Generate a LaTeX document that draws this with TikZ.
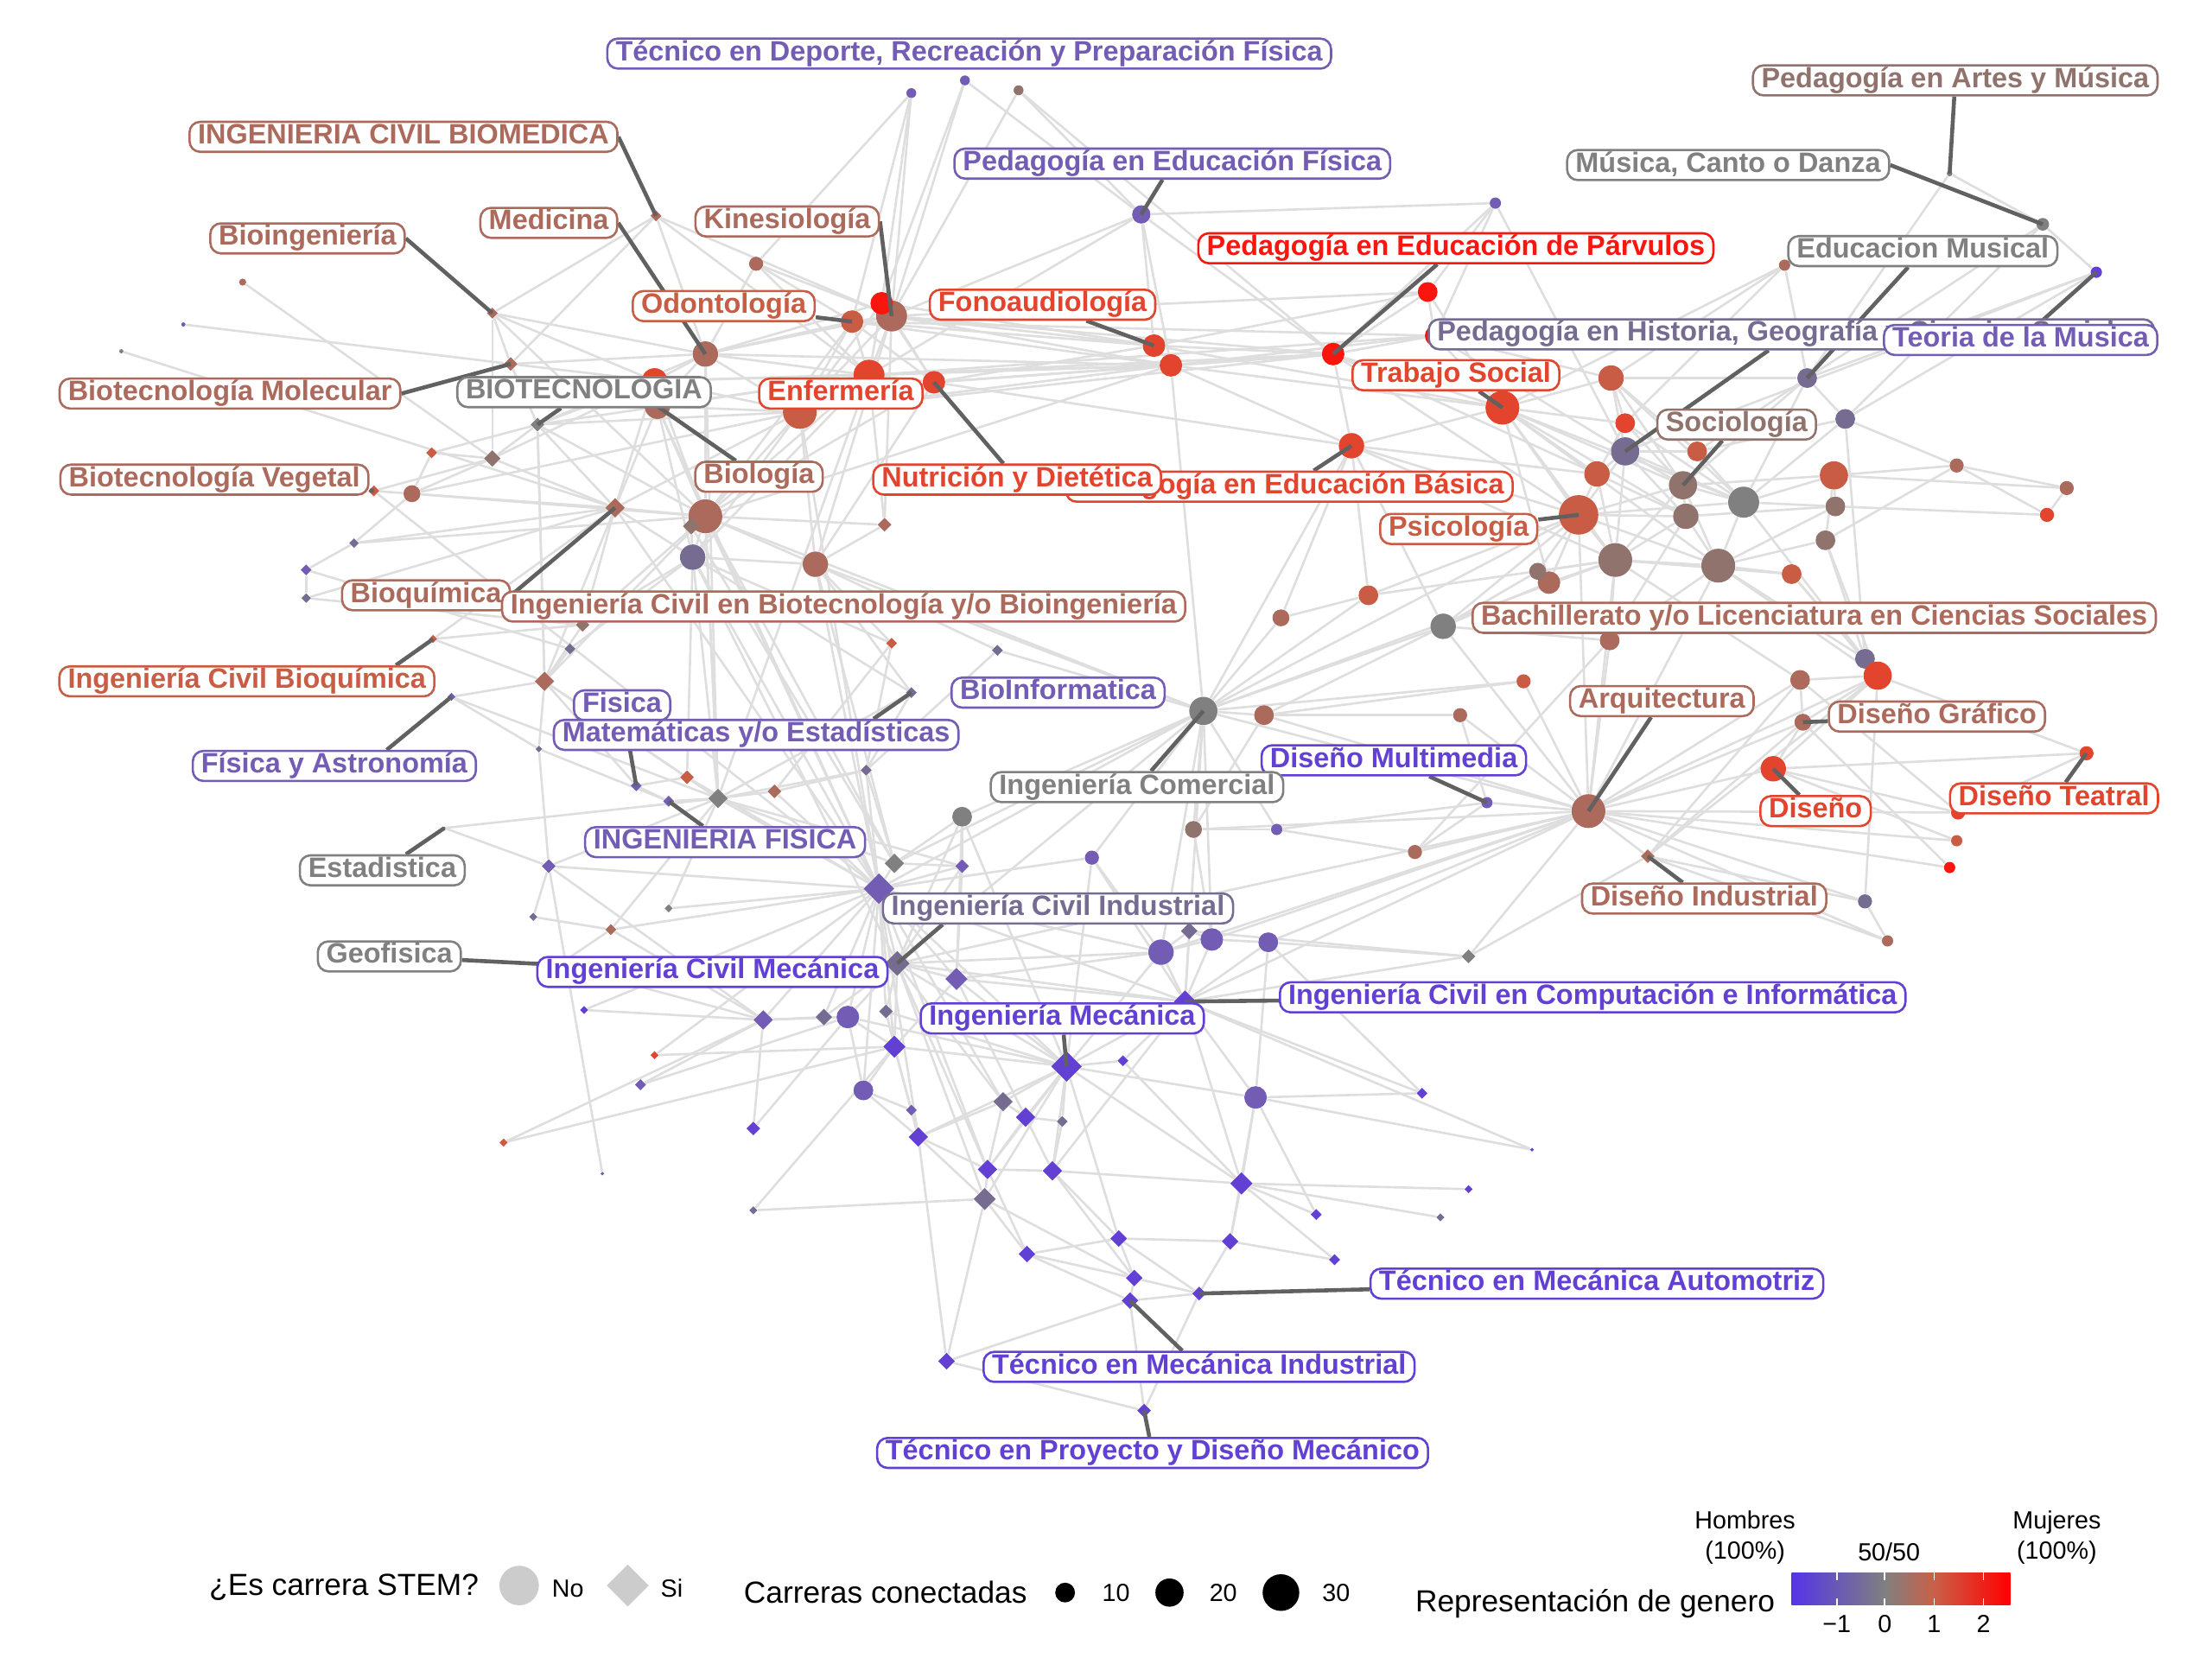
\documentclass[tikz,border=0pt]{standalone}
\usepackage{fontspec}
\setmainfont{Liberation Sans}
\usetikzlibrary{shapes.geometric}

% gender scale
\definecolor{cB}{RGB}{98,64,212}
\definecolor{cV}{RGB}{115,92,180}
\definecolor{cP}{RGB}{118,108,145}
\definecolor{cG}{RGB}{128,128,128}
\definecolor{cM}{RGB}{145,115,110}
\definecolor{cBr}{RGB}{172,106,92}
\definecolor{cO}{RGB}{200,92,68}
\definecolor{cOR}{RGB}{226,68,45}
\definecolor{cR}{RGB}{250,22,15}
\definecolor{grisE}{RGB}{222,222,222}
\definecolor{barA}{RGB}{85,52,232}
\definecolor{barC}{RGB}{202,96,72}

\pgfdeclarelayer{fondo}
\pgfdeclarelayer{enlaces}
\pgfdeclarelayer{guias}
\pgfdeclarelayer{etiquetas}
\pgfsetlayers{fondo,enlaces,main,guias,etiquetas}

\tikzset{
  carrera/.style 2 args={circle, fill=#2, inner sep=0pt, minimum size=#1*0.4mm},
  stem/.style 2 args={diamond, aspect=1, fill=#2, inner sep=0pt, minimum size=#1*0.4mm},
  enlace/.style={draw=grisE, line width=0.9pt},
  guia/.style={draw=black!62, line width=1.6pt},
  etiqueta/.style={draw=#1, text=#1, fill=white, line width=0.9pt, rounded corners=1.5mm,
    font=\bfseries\fontsize{11.3}{13}\selectfont, inner xsep=1.2mm, inner ysep=0.85pt,
    text height=8pt, text depth=2.4pt},
  leyenda/.style={font=\fontsize{12.3}{14}\selectfont, inner sep=0pt},
  clave/.style={font=\fontsize{10}{12}\selectfont, inner sep=0pt},
}

\begin{document}
\begin{tikzpicture}[x=0.2mm,y=-0.2mm]

\begin{pgfonlayer}{fondo}
\fill[white] (0,0) rectangle (1568,1175);
\end{pgfonlayer}
\useasboundingbox (0,0) rectangle (1568,1175);

% Careers that are not STEM (circles)
\foreach \n/\x/\y/\rad/\col in {
  t1/646/66/3.5/cV, t2/684/57/3.5/cV, t3/722/64/3.5/cM, pef/809/152/6.5/cV,
  kin/632/224/11/cBr, kr/625/215/8/cR, med/500/251/9/cBr, odo/604/228/8/cO,
  b1/536/187/5/cBr, l1/172/200/2.5/cBr, l2/130/230/1.5/cV, l3/86/249/1.5/cG,
  rb/464/270/9/cOR, bio/466/288/9/cBr, enf/616/266/11/cOR, nut/662/271/8/cOR,
  b2/567/292/12/cO, fono/818/245/8/cOR, f2/830/259/8/cOR, c1/292/350/6/cBr,
  c2/500/366/12/cBr, c3/491/395/9/cP, c4/578/400/9/cBr, est/315/587/1/cG,
  icom/853/504/10/cG, c5/896/507/7/cBr, c6/682/579/7/cG, c7/774/608/5/cV,
  geo/396/684/1/cG, c8/601/721/8/cV, c9/823/675/9/cV, c10/859/666/8/cV,
  c11/899/668/7/cV, c12/612/773/7/cV, c13/890/778/8/cV,
  pam/1382/123/2/cG, mcd/1448/159/4.5/cG, c14/1060/144/4/cV, tdm/1486/193/4/cB,
  c15/1265/188/4/cBr, par/945/251/8/cR, c16/1012/207/7/cR, c17/1017/238/7/cR,
  phg/1152/320/10/cP, emu/1281/268/7/cP, ts/1065/289/12/cOR, c18/1142/268/9/cO,
  c19/1152/300/7/cOR, c20/1132/336/9/cO, c21/1203/320/7/cO, soc/1193/344/10/cM,
  c22/1236/356/11/cG, c23/1195/366/9/cM, c24/1308/297/7/cP, c25/1300/337/10/cO,
  c26/1301/359/7/cM, c27/1294/383/7/cM, psi/1119/365/14/cO, c28/1145/397/12/cM,
  c29/1218/401/12/cM, c30/1270/407/7/cO, c31/1098/413/8/cBr, c32/1090/405/6/cM,
  peb/958/316/9/cOR, c33/1387/330/5/cBr, c34/1465/346/5/cBr, c35/1451/365/5/cOR,
  c36/970/422/7/cO, c37/908/438/6/cBr, c38/1023/444/9/cG, c39/1141/454/7/cBr,
  c40/1080/483/5/cO, c41/1035/507/5/cBr, c42/1322/467/7/cP, c43/1331/479/10/cOR,
  c44/1276/482/7/cBr, dgr/1278/512/6/cBr, dis/1257/545/9/cOR, dte/1479/534/5/cOR,
  c45/1388/576/5/cOR, c46/1387/596/4/cO, c47/1382/615/4/cR, arq/1126/575/12/cBr,
  c48/1322/639/5/cP, c49/1338/667/4/cBr, dmu/1054/569/4/cV, c50/1003/604/5/cBr,
  c51/905/588/4/cV, c52/846/588/6/cM}
  \node[carrera={\rad}{\col}] (\n) at (\x,\y) {};

% STEM careers (diamonds)
\foreach \n/\x/\y/\rad/\col in {
  icb/465/153/4/cBr, bioi/349/222/4/cBr, btm/362/258/5/cBr, btc/381/301/5/cG,
  d1/306/321/4/cO, d2/349/325/6/cM, bveg/265/348/4/cO, bqm/436/360/7/cBr,
  d3/490/373/6/cM, d4/627/372/5/cBr, d5/251/385/3.5/cP, d6/217/404/4/cV,
  d7/217/424/3.5/cP, ibq/307/453/3/cO, d8/413/443/5/cM, d9/404/460/4/cP,
  d10/386/483/7/cBr, d11/632/456/4/cO, d12/707/461/4/cP, fya/320/494/3/cV,
  mat/646/491/4/cP, d13/382/531/2.5/cP, fis/451/557/4/cV, ifis/474/568/4/cV,
  d14/487/551/5/cO, d15/509/566/7/cG, d16/549/561/5/cBr, d17/614/546/4/cP,
  d18/634/612/7/cG, d19/682/614/5/cV, d20/623/630/11/cV, d21/389/614/5/cV,
  d22/378/650/3/cP, d23/474/644/3/cG, d24/433/659/4/cBr, iind/636/683/9/cP,
  d25/678/694/8/cV, d26/414/716/3/cB, d27/541/723/7/cV, d28/584/721/6/cP,
  d29/628/717/5/cP, imec/756/756/11/cB, d30/634/742/8/cB, icci/840/710/8/cB,
  d31/843/660/6/cP, d32/1041/678/5/cG, d33/646/787/4/cV, d34/711/781/7/cP,
  d35/727/792/7/cB, d36/753/795/4/cP, d37/796/752/4/cB, d38/464/748/3/cOR,
  d39/454/769/4/cV, d40/357/810/3/cO, d41/427/832/1.5/cV, d42/534/800/5/cB,
  d43/651/806/7/cB, d44/700/829/7/cB, d45/746/830/7/cB, d46/880/839/8/cB,
  d47/698/850/8/cP, d48/1008/775/4/cB, d49/1086/815/1.5/cB, d50/1041/843/3/cB,
  d51/933/861/4/cB, d52/1021/863/3/cP, d53/534/858/3/cP, d54/728/889/6/cB,
  d55/793/878/6/cB, d56/872/880/6/cB, d57/946/893/4/cB, tma/850/917/5/cB,
  d58/804/906/6/cB, tmi/801/922/6/cB, d59/671/965/6/cB, tpd/811/1000/5/cB,
  din/1168/607/5/cBr}
  \node[stem={\rad}{\col}] (\n) at (\x,\y) {};

% Labels of the careers
\begin{pgfonlayer}{etiquetas}
\node[etiqueta=cV] (ldep) at (687,38) {Técnico en Deporte, Recreación y Preparación Física};
\node[etiqueta=cBr] (licb) at (286,97) {INGENIERIA CIVIL BIOMEDICA};
\node[etiqueta=cV] (lpef) at (831,116) {Pedagogía en Educación Física};
\node[etiqueta=cBr] (lmed) at (389,158) {Medicina};
\node[etiqueta=cBr] (lkin) at (558,157) {Kinesiología};
\node[etiqueta=cBr] (lbioi) at (218,169) {Bioingeniería};
\node[etiqueta=cO] (lodo) at (513,217) {Odontología};
\node[etiqueta=cOR] (lfono) at (739,216) {Fonoaudiología};
\node[etiqueta=cR] (lpar) at (1032,176) {Pedagogía en Educación de Párvulos};
\node[etiqueta=cG] (lmcd) at (1225,117) {Música, Canto o Danza};
\node[etiqueta=cM] (lpam) at (1386,57) {Pedagogía en Artes y Música};
\node[etiqueta=cG] (lemu) at (1363,178) {Educacion Musical};
\node[etiqueta=cBr] (lbtm) at (163,279) {Biotecnología Molecular};
\node[etiqueta=cG] (lbtc) at (414,278) {BIOTECNOLOGIA};
\node[etiqueta=cOR] (lenf) at (596,279) {Enfermería};
\node[etiqueta=cP, anchor=west] (lphg) at (1012,237) {Pedagogía en Historia, Geografía y Ciencias Sociales};
\node[etiqueta=cV, anchor=east] (ltdm) at (1530,241) {Teoria de la Musica};
\node[etiqueta=cOR] (lts) at (1032,266) {Trabajo Social};
\node[etiqueta=cM] (lsoc) at (1231,301) {Sociología};
\node[etiqueta=cBr] (lbveg) at (152,340) {Biotecnología Vegetal};
\node[etiqueta=cBr] (lbio) at (538,338) {Biología};
\node[etiqueta=cOR, anchor=east] (lpeb) at (1073,345) {Pedagogía en Educación Básica};
\node[etiqueta=cOR] (lnut) at (721,340) {Nutrición y Dietética};
\node[etiqueta=cO] (lpsi) at (1034,375) {Psicología};
\node[etiqueta=cBr] (lbqm) at (302,422) {Bioquímica};
\node[etiqueta=cBr] (licbt) at (598,430) {Ingeniería Civil en Biotecnología y/o Bioingeniería};
\node[etiqueta=cBr] (lbach) at (1286,438) {Bachillerato y/o Licenciatura en Ciencias Sociales};
\node[etiqueta=cO] (libq) at (175,483) {Ingeniería Civil Bioquímica};
\node[etiqueta=cV] (lbinf) at (750,491) {BioInformatica};
\node[etiqueta=cV] (lfis) at (441,500) {Fisica};
\node[etiqueta=cV] (lmat) at (536,521) {Matemáticas y/o Estadísticas};
\node[etiqueta=cV] (lfya) at (237,543) {Física y Astronomía};
\node[etiqueta=cB] (ldmu) at (988,539) {Diseño Multimedia};
\node[etiqueta=cG] (licom) at (806,558) {Ingeniería Comercial};
\node[etiqueta=cBr] (larq) at (1178,497) {Arquitectura};
\node[etiqueta=cBr] (ldgr) at (1373,508) {Diseño Gráfico};
\node[etiqueta=cOR] (ldis) at (1287,575) {Diseño};
\node[etiqueta=cOR] (ldte) at (1456,566) {Diseño Teatral};
\node[etiqueta=cG] (lest) at (271,617) {Estadistica};
\node[etiqueta=cV] (lifis) at (514,597) {INGENIERIA FISICA};
\node[etiqueta=cBr] (ldin) at (1208,637) {Diseño Industrial};
\node[etiqueta=cP] (liind) at (750,644) {Ingeniería Civil Industrial};
\node[etiqueta=cG] (lgeo) at (276,678) {Geofisica};
\node[etiqueta=cB] (licm) at (505,689) {Ingeniería Civil Mecánica};
\node[etiqueta=cB] (licci) at (1129,707) {Ingeniería Civil en Computación e Informática};
\node[etiqueta=cB] (limec) at (753,722) {Ingeniería Mecánica};
\node[etiqueta=cB] (ltma) at (1132,910) {Técnico en Mecánica Automotriz};
\node[etiqueta=cB] (ltmi) at (850,969) {Técnico en Mecánica Industrial};
\node[etiqueta=cB] (ltpd) at (817,1030) {Técnico en Proyecto y Diseño Mecánico};
\end{pgfonlayer}

% Segments from each label to its career
\begin{pgfonlayer}{guias}
\foreach \p/\q in {licb.east/icb, lpef/pef, lmed.east/med, lkin.east/kin,
  lbioi.east/bioi, lodo/odo, lfono/fono, lpar/par, lmcd.east/mcd, lpam/pam,
  lemu/emu, lbtm.east/btm, lbtc/btc, lphg/phg, ltdm/tdm, lts/ts, lsoc/soc,
  lbveg/bveg, lbio/bio, lpeb/peb, lnut/nut, lpsi/psi, lbqm.east/bqm,
  lfis/fis, ldmu/dmu, licom/icom, larq/arq, ldgr/dgr, ldis/dis, ldte/dte,
  lest/est, lifis/ifis, ldin/din, lgeo/geo, licci/icci, limec/imec,
  ltma/tma, ltmi/tmi, ltpd/tpd}
  \draw[guia] (\p) -- (\q.center);
\draw[guia] ([xshift=-5.6mm]libq.north east) -- (ibq.center);
\draw[guia] ([xshift=-12.8mm]lfya.north east) -- (fya.center);
\draw[guia] ([xshift=-12.2mm]lmat.north east) -- (mat.center);
\draw[guia] ([xshift=8.6mm]liind.south west) -- (iind.center);
\end{pgfonlayer}

% Connected careers
\begin{pgfonlayer}{enlaces}
\foreach \p/\q in {
  t1/kin, t1/kr, t1/odo, t2/kin, t2/pef, t2/kr, t3/kin, t3/pef, t3/par, t1/b1,
  pef/kin, pef/f2, pef/par, pef/fono, pef/enf, pef/c14,
  icb/bioi, icb/med, icb/enf, icb/btm, icb/kin,
  bioi/btm, bioi/d2, bioi/med, bioi/c2, bioi/rb, l1/d2, l2/btm, l3/bqm,
  med/odo, med/kin, med/enf, med/b2, med/rb, med/bio, med/c2, med/btc, med/kr,
  odo/kin, odo/enf, odo/b2, odo/nut, odo/c2, kin/enf, kin/nut, kin/b2, kin/kr, kin/c4,
  kr/enf, kr/nut, kr/b2, b1/kin, b1/enf, b1/med, b1/odo,
  enf/nut, enf/b2, enf/c2, enf/bio, enf/rb, enf/c3, nut/b2, nut/c4, nut/c2,
  b2/c2, b2/rb, b2/bio, b2/c3, rb/bio, rb/btc, rb/d2, rb/c2, bio/c2, bio/bqm, bio/c3,
  c2/c3, c2/d3, c2/bqm, c2/c4, c3/bqm, c3/d3, c3/c4, c4/d4, c4/b2, d4/enf, d4/kin, d4/c2,
  bqm/d2, bqm/btc, bqm/c1, bqm/d10, bqm/rb, bqm/b2, d2/btc, d2/c1, d2/d1, d1/btc, d1/c1,
  c1/bveg, bveg/d2, btm/btc, btm/rb, btm/med, c1/c2, c1/b2, btc/c2, btc/enf, btc/b2, btc/d10,
  kin/fono, kin/f2, odo/fono, odo/f2, enf/f2, enf/par, nut/fono, nut/f2, nut/par,
  kr/fono, b2/f2, med/f2, kin/par, odo/c17, enf/c17, fono/par, f2/par, f2/c17,
  fono/c16, fono/ts, f2/ts, f2/peb, nut/peb, c2/f2, b2/par, kin/c16, rb/f2,
  c14/par, c14/c17, c14/phg, c14/c16, c15/emu, c15/ts, c15/c18, c15/c19,
  pam/mcd, pam/emu, mcd/tdm, mcd/emu, tdm/emu, tdm/c24, tdm/phg, mcd/c24,
  par/c16, par/c17, par/ts, par/peb, par/psi, par/c20, c16/ts, c16/c17, c17/ts, c17/c18, c17/phg,
  ts/c18, ts/c19, ts/c20, ts/psi, ts/soc, ts/c23, ts/c28, ts/peb, ts/c22, ts/c29, ts/c31,
  c18/c19, c18/phg, c18/soc, c18/c21, c18/c22, c19/c20, c19/soc, c19/c22,
  c20/psi, c20/c28, c20/phg, c20/c23,
  phg/soc, phg/c21, phg/c22, phg/c23, phg/psi, phg/c28, soc/c22, soc/c23, soc/c28,
  soc/c29, soc/c25, c21/c22, c21/c24, c22/c25, c22/c29, c22/c24, c22/c26,
  c23/c28, c23/c29, c23/c26, psi/c28, psi/c29, psi/c23, psi/soc, psi/c31, psi/c32,
  psi/c38, psi/peb, psi/c22, c28/c29, c28/c31, c28/c32, c28/c30, c29/c30, c29/c27,
  c29/c26, c25/c26, c25/c27, c25/c33, c25/c34, c24/c33, c26/c35, c27/c33, c30/c42,
  c33/c34, c34/c35, c33/c35, emu/c22, emu/c24, emu/soc, emu/c18, emu/c21,
  c31/c38, c32/c38, c36/psi, c36/c28, c36/peb, c37/peb, c37/c36, c38/c39, c39/c28,
  c39/c29, c39/c23, c38/icom, peb/c20, peb/c38, peb/c28, c27/c42, c22/c42, c24/c42,
  c42/c43, c42/c29, c43/c44, c43/dgr, c43/c30, c43/dis, c43/c48, c43/dte, c44/dgr,
  dgr/dis, dis/c45, dis/dte, dis/c46, dte/c45, dgr/c47, c44/c45, c43/c29, c44/c28, c43/c27,
  arq/icom, arq/c38, arq/c39, arq/c40, arq/c41, arq/c5, arq/dmu, arq/c50, arq/din,
  arq/dis, arq/dgr, arq/c44, arq/c45, arq/c46, arq/c47, arq/c48, arq/c49, arq/c28,
  arq/psi, arq/d32, arq/c11, arq/c10, arq/icci, arq/c52, arq/c29, arq/c43, arq/iind, arq/c9,
  din/c48, din/c49, din/d32, din/c43, din/dgr, din/c44, c48/c49,
  icom/c5, icom/c36, icom/c37, icom/peb, icom/psi, icom/c28, icom/c6, icom/c52,
  icom/c51, icom/c7, icom/iind, icom/d18, icom/c2, icom/c4, icom/d12, icom/c40,
  icom/c10, icom/icci, icom/f2, icom/d20, icom/c9,
  c5/c40, c5/c41, c5/c38, c5/c52, dmu/c41, dmu/c51, dmu/c50, c50/c51, c50/c39, c52/c51, c52/c10,
  d5/bqm, d5/c1, d6/d5, d6/d7, d6/d9, d7/d8, d7/bqm, d8/c2, d8/d10, d8/bqm, d8/c3,
  d9/d10, d9/c3, d10/d15, d10/d14, d10/btc, d10/c2,
  ibq/d10, ibq/d8, ibq/bqm, fya/d13, fya/d10, fya/d15, d11/c4, d11/d17, d11/c3,
  d11/d16, d12/c4, d12/d17, mat/d17, mat/d15, mat/c4, mat/c3,
  d13/d21, d13/ifis, d13/d10, fis/d14, fis/ifis, fis/d10, ifis/d15, d14/d15,
  d15/d16, d15/d20, d15/d17, d15/d18, d15/c3, d15/c2, d15/d19, d16/d20, d16/d17,
  d17/d20, d17/d18, d14/d20, d14/c3,
  est/d15, est/d21, geo/d24, geo/d27,
  d21/d22, d21/d15, d21/d20, d21/d27, d22/d24, d23/d15, d23/d20, d24/d20, d24/d15, d24/d27,
  c4/d18, b2/d20, c2/d20, c3/d20, bqm/d20, c3/iind, d3/d18, c2/d15, med/d15,
  enf/d15, bveg/d20, d5/c2, c2/d18, bio/d20, c4/d20,
  d18/d20, d18/d19, d18/c6, d19/d20, d19/c6, d20/iind, d20/d25, d20/d28, d20/c8,
  d20/d29, d20/d30, d20/imec, d20/c12, d20/d34, d20/d43, d20/d44, d20/d27, d20/c9, d20/icci,
  iind/d25, iind/d29, iind/d30, iind/imec, iind/c8, iind/d28, iind/d34, iind/d44,
  iind/icci, iind/c9, iind/d47,
  d25/imec, d25/c9, d25/d30, d25/icci, d25/d35, c8/d28, c8/d27, c8/d30, c8/imec,
  c8/c12, d27/d28, d27/d42, d29/d30, d29/imec,
  d30/imec, d30/d33, d30/d43, d30/c12, imec/d35, imec/d34, imec/d36, imec/d37,
  imec/icci, imec/d44, imec/d45, imec/d46, imec/c13, imec/d47, imec/d43, imec/d55, imec/c9,
  icci/c9, icci/c10, icci/c11, icci/d31, icci/c13, icci/d46, icci/d37, icci/d45,
  icci/d32, icci/d48, icci/d49,
  c9/c10, c9/d31, c10/c11, c10/d31, c11/d32, c12/d33, c12/d43, d33/d43, d34/d35,
  d34/d43, d34/d44, d35/d36, d35/d45, d35/d44, d36/d45, d37/d46,
  c13/d46, c13/d48, c13/d56, c13/d51, d43/d44, d43/d47, d44/d45, d44/d47, d44/d54,
  d45/d46, d45/d55, d45/d58, d46/d56, d46/d51, d46/d52, d46/d50, d46/d57,
  d47/d54, d47/d58, d47/d59, d54/d55, d54/tmi, d54/d58, d55/d56, d55/tma, d55/d58,
  d56/tma, d56/d57, d58/tma, d58/tmi, tmi/tma, tmi/d59, tmi/tpd, d59/tpd, tpd/tma,
  d43/d59, d30/d53,
  c6/d25, c6/imec, c7/icci, c7/c9, c7/imec, c7/d20, d31/d32, d48/c11, d49/c13,
  d42/c8, d53/d47, d39/d27, d39/c8, d38/d20, d38/d30, d40/d30, d40/d27, d41/d21,
  d26/d20, d26/d27, c11/c13, d19/d25, d19/iind, c6/iind}
  \draw[enlace] (\p) -- (\q);
\end{pgfonlayer}

% Legend: STEM or not
\node[leyenda, anchor=west] (tstem) at (148,1125) {¿Es carrera STEM?};
\node[carrera={14}{black!20}] (kno) at (368,1124) {};
\node[clave, anchor=west] (tno) at (391,1126) {No};
\node[stem={15}{black!20}] (ksi) at (445,1124) {};
\node[clave, anchor=west] (tsi) at (468,1126) {Si};

% Legend: connected careers
\node[leyenda, anchor=west] (tcon) at (527,1129) {Carreras conectadas};
\node[carrera={7}{black}] (k10) at (755,1129) {};
\node[clave, anchor=west] (t10) at (781,1129) {10};
\node[carrera={10}{black}] (k20) at (829,1129) {};
\node[clave, anchor=west] (t20) at (857,1129) {20};
\node[carrera={13}{black}] (k30) at (908,1129) {};
\node[clave, anchor=west] (t30) at (937,1129) {30};

% Legend: gender representation
\node[leyenda, anchor=west] (tgen) at (1003,1137) {Representación de genero};
\shade[left color=barA, right color=cG] (1270,1115) rectangle (1336,1138);
\shade[left color=cG, right color=barC] (1336,1115) rectangle (1371,1138);
\shade[left color=barC, right color=red] (1371,1115) rectangle (1425,1138);
\foreach \x/\t in {1302/−1, 1336/0, 1371/1, 1406/2} {
  \draw[white, line width=0.6pt] (\x,1115) -- (\x,1120) (\x,1133) -- (\x,1138);
  \node[clave] at (\x,1151) {\t};
}
\node[clave, align=center] (thom) at (1237,1090) {Hombres\\(100\%)};
\node[clave] (t5050) at (1339,1100) {50/50};
\node[clave, align=center] (tmuj) at (1458,1090) {Mujeres\\(100\%)};

\end{tikzpicture}
\end{document}
